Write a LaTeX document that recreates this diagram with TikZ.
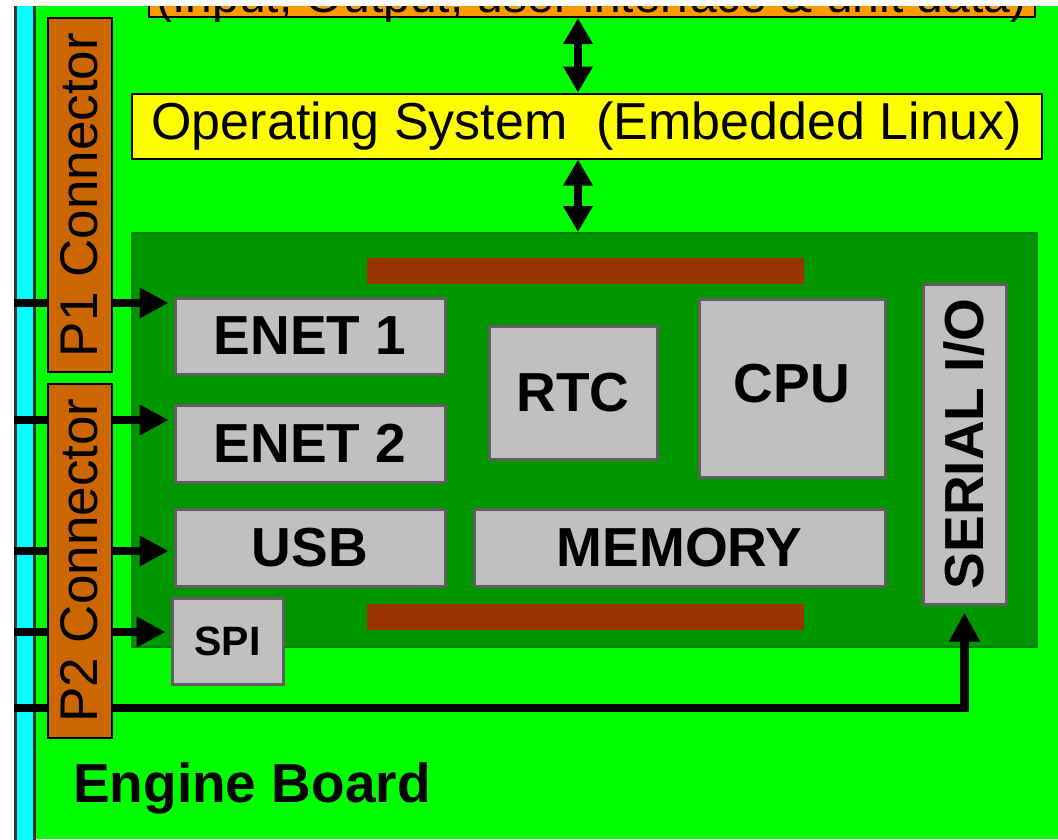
\documentclass[tikz,border=0pt]{standalone}
\usepackage{fontspec}
\setmainfont{Liberation Sans}
\usepackage{xcolor}
\usetikzlibrary{math,arrows.meta}

\definecolor{brightgreen}{HTML}{00FF00}
\definecolor{boardgreen}{HTML}{009600}
\definecolor{boardedge}{HTML}{007A00}
\definecolor{railcyan}{HTML}{00FFFF}
\definecolor{connorange}{HTML}{CC6600}
\definecolor{uiorange}{HTML}{FF9900}
\definecolor{osyellow}{HTML}{FFFF00}
\definecolor{chipgrey}{HTML}{C0C0C0}
\definecolor{chipedge}{HTML}{5F5F5F}
\definecolor{barbrown}{HTML}{993300}

\tikzset{
	chip/.style={draw=chipedge,fill=chipgrey,line width=3pt,inner sep=0pt,
		font=\fontsize{55}{60}\selectfont\bfseries},
	conn/.style={draw=black,fill=connorange,line width=2pt,inner sep=0pt,
		minimum width=354pt,minimum height=64pt,rotate=90,
		font=\fontsize{53}{56}\selectfont},
	bar/.style={fill=barbrown,inner sep=0pt,minimum width=437pt,minimum height=26pt},
	sig/.style={line width=8.5pt,line join=miter,-{Triangle[length=29pt,width=29pt]},shorten >=5pt},
	dbl/.style={line width=8pt,{Triangle[length=26pt,width=28pt]}-{Triangle[length=26pt,width=28pt]}}
}

\begin{document}
\begin{tikzpicture}[x=1pt,y=-1pt]
\useasboundingbox[fill=white] (0,0) rectangle (1058,839);
\tikzmath{
	\cl = 310;\wl = 270;
	\ya = 303;\yb = 420;\yc = 551;\yd = 632;\ye = 708;
}
\begin{scope}
\clip (14,6) rectangle (1058,839);
\fill[brightgreen] (14,6) rectangle (1058,839);
\draw[railcyan,fill=railcyan] (16,0) rectangle (34,845);
\draw[black!80,line width=2.5pt] (15.5,0) -- (15.5,845) (34.5,0) -- (34.5,845);
%
\node[draw=black,fill=uiorange,line width=2pt,minimum width=886pt,minimum height=77pt] (ui) at (591.5,-21.5) {};
\node[anchor=base,font=\fontsize{48}{52}\selectfont] (uitext) at (591.5,12) {(Input, Output, user interface \& unit data)};
\node[draw=black,fill=osyellow,line width=2pt,inner sep=0pt,minimum width=910pt,minimum height=65pt,
	font=\fontsize{52}{56}\selectfont] (os) at (586.5,126) {Operating System\ \ (Embedded Linux)};
%
\node[draw=boardedge,fill=boardgreen,line width=2pt,minimum width=905pt,minimum height=414pt] (board) at (584.5,440) {};
\node[bar] (bartop) at (585.5,271) {};
\node[bar] (barbot) at (585.5,616.5) {};
%
\node[chip,minimum width=\wl pt,minimum height=76pt] (enet1) at (\cl,336) {ENET 1};
\node[chip,minimum width=\wl pt,minimum height=77pt] (enet2) at (\cl,443.5) {ENET 2};
\node[chip,minimum width=\wl pt,minimum height=77pt] (usb) at (\cl,547.5) {USB};
\node[chip,minimum width=111pt,minimum height=86pt,font=\fontsize{41}{46}\selectfont\bfseries] (spi) at (227.5,641) {SPI};
\node[chip,minimum width=168pt,minimum height=133pt] (rtc) at (573,392.5) {RTC};
\node[chip,minimum width=186pt,minimum height=178pt,text depth=0pt,text height=28pt] (cpu) at (792,388) {CPU};
\node[chip,minimum width=411pt,minimum height=77pt] (memory) at (679.5,547.5) {MEMORY};
\node[chip,minimum width=320pt,minimum height=83pt,rotate=90] (serial) at (964.5,444) {SERIAL I/O};
%
\coordinate (busx) at (578,0);
\draw[dbl] (busx |- ui.south) -- (busx |- os.north);
\draw[dbl] (busx |- os.south) -- (busx |- board.north);
%
\coordinate (in1) at (14,\ya);
\coordinate (in2) at (14,\yb);
\coordinate (in3) at (14,\yc);
\coordinate (in4) at (14,\yd);
\coordinate (in5) at (14,\ye);
\draw[sig] (in1) -- (in1 -| enet1.west);
\draw[sig] (in2) -- (in2 -| enet2.west);
\draw[sig] (in3) -- (in3 -| usb.west);
\draw[sig] (in4) -- (in4 -| spi.west);
\draw[sig,shorten >=7pt] (in5) -| (serial.west);
%
\node[conn] (p1) at (79.5,195) {P1 Connector};
\node[conn] (p2) at (79.5,560.5) {P2 Connector};
%
\node[anchor=base west,inner sep=0pt,font=\fontsize{55}{60}\selectfont\bfseries] (engine) at (73,802) {Engine Board};
\end{scope}
\end{tikzpicture}
\end{document}
